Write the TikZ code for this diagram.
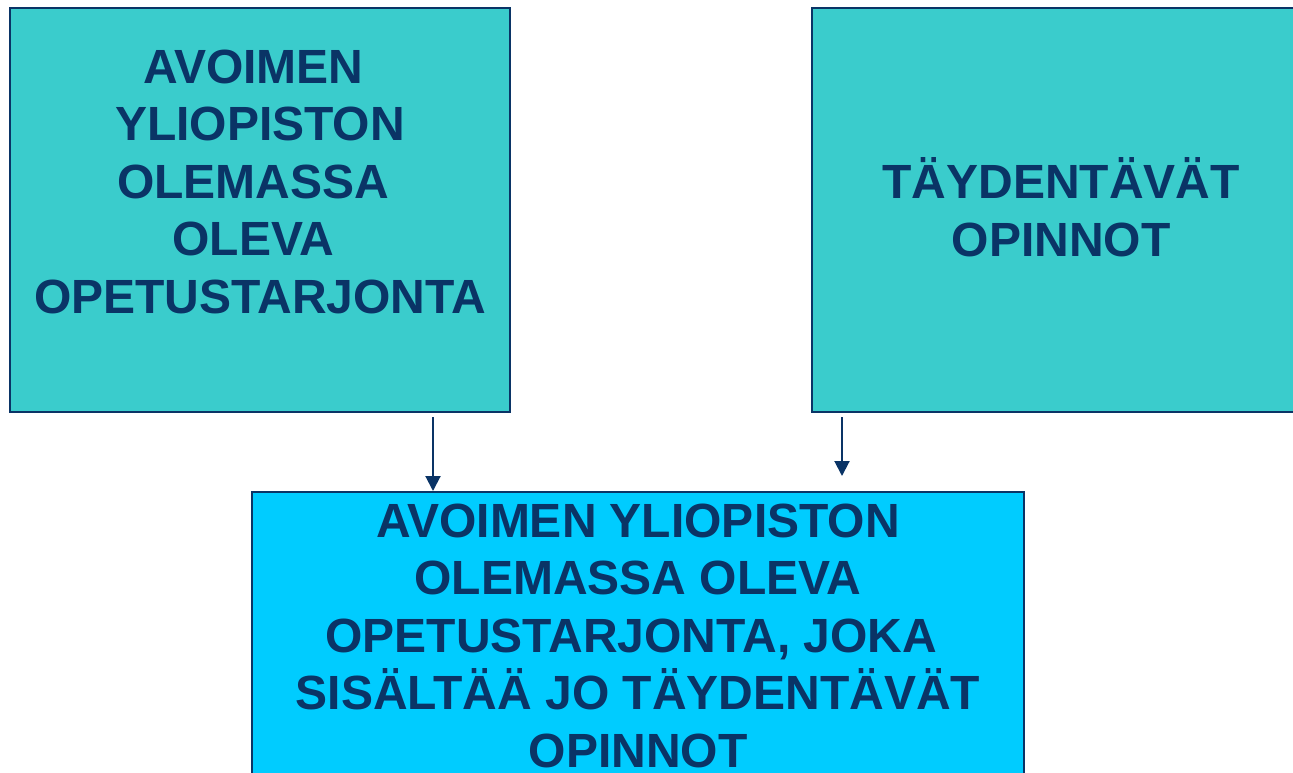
\documentclass[tikz,border=0pt]{standalone}
\usepackage{fontspec}
\setmainfont{Liberation Sans}
\usetikzlibrary{arrows.meta}
\definecolor{navy}{RGB}{10,52,102}
\definecolor{boxteal}{RGB}{58,204,204}
\definecolor{boxsky}{RGB}{0,204,255}

\begin{document}
\begin{tikzpicture}[x=1pt,y=-1pt,
	box/.style={draw=navy,line width=2pt,inner sep=0pt},
	txt/.style={text=navy,font=\fontsize{48}{57.5}\selectfont\bfseries,align=center,inner sep=0pt,anchor=base},
	arr/.style={navy,line width=2pt,-{Triangle[width=15pt,length=15pt]}}]
	\useasboundingbox (0,0) rectangle (1293,772);
	\clip (0,0) rectangle (1293,772);
	% the three boxes
	\node [box,fill=boxteal,minimum width=500pt,minimum height=404pt] (olemassa) at (260,210) {};
	\node [box,fill=boxteal,minimum width=500pt,minimum height=404pt] (taydent) at (1062,210) {};
	\node [box,fill=boxsky,minimum width=772pt,minimum height=330pt] (kaikki) at (638,657) {};
	% texts, placed by the baseline of their last line
	\node [txt] (olemassatxt) at (260,313) {AVOIMEN\kern.28em\\YLIOPISTON\\OLEMASSA\kern.28em\\OLEVA\kern.28em\\OPETUSTARJONTA};
	\node [txt] (taydenttxt) at (1061,256) {TÄYDENTÄVÄT\\OPINNOT};
	\node [txt] (kaikkitxt) at (638,767) {AVOIMEN YLIOPISTON\\OLEMASSA OLEVA\\OPETUSTARJONTA, JOKA\kern.28em\\SISÄLTÄÄ JO TÄYDENTÄVÄT\\OPINNOT};
	% arrows
	\draw [arr] ([yshift=-4pt]olemassa.south -| 433,0) -- (433,0 |- kaikki.north);
	\draw [arr] ([yshift=-4pt]taydent.south -| 842,0) -- ([yshift=15pt]kaikki.north -| 842,0);
\end{tikzpicture}
\end{document}
